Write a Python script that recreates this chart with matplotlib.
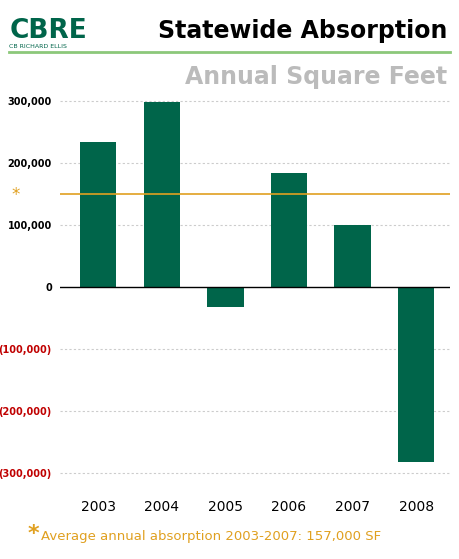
import matplotlib
matplotlib.use("Agg")
import matplotlib.pyplot as plt
from matplotlib.ticker import FuncFormatter

years = ["2003", "2004", "2005", "2006", "2007", "2008"]
values = [234000, 298000, -32000, 184000, 100000, -281000]
average = 150000
yticks = [300000, 200000, 100000, 0, -100000, -200000, -300000]

fig = plt.figure(figsize=(4.59, 5.59), dpi=100)
ax = fig.add_axes([0.131, 0.141, 0.849, 0.689])
x = range(len(years))
ax.bar(x, values, width=0.57, color="#00654a", zorder=3)
ax.axhline(0, color="black", lw=1, zorder=4)
ax.axhline(average, color="#e0a020", lw=1.2, zorder=4)
for t in yticks:
    if t != 0:
        ax.axhline(t, color="#cccccc", lw=0.8, ls=(0, (2, 2)), zorder=1)
ax.set_ylim(-311000, 310000)
ax.set_xlim(-0.6, 5.53)
ax.set_yticks(yticks)
def fmt(v, p):
    return f"({abs(int(v)):,})" if v < 0 else f"{int(v):,}"
ax.yaxis.set_major_formatter(FuncFormatter(fmt))
for lab, t in zip(ax.get_yticklabels(), yticks):
    lab.set_color("#c00000" if t < 0 else "black")
    lab.set_fontsize(7)
    lab.set_fontfamily("Liberation Sans Narrow")
    lab.set_fontweight("bold")
ax.set_xticks(list(x))
ax.set_xticklabels(years, fontsize=10)
ax.tick_params(axis="y", length=0, pad=6)
ax.tick_params(axis="x", length=0, pad=14)
for s in ax.spines.values():
    s.set_visible(False)
fig.text(0.025, 0.643, "*", color="#e0a020", fontsize=12)

fig.text(0.02, 0.945, "CBRE", color="#00654a", fontsize=19, fontweight="bold", va="center")
fig.text(0.02, 0.917, "CB RICHARD ELLIS", color="#00654a", fontsize=4.5, va="center")
fig.text(0.975, 0.945, "Statewide Absorption", fontsize=17, fontweight="bold", ha="right", va="center")
fig.add_artist(plt.Line2D([0.02, 0.98], [0.907, 0.907], color="#8cc87a", lw=2))
fig.text(0.975, 0.862, "Annual Square Feet", fontsize=17, fontweight="bold", color="#bbbbbb", ha="right", va="center")
fig.text(0.06, 0.045, "*", color="#e0a020", fontsize=16, fontweight="bold", va="center")
fig.text(0.09, 0.04, "Average annual absorption 2003-2007: 157,000 SF", color="#e0a020", fontsize=9.5, va="center")
fig.savefig("out.png", dpi=100)
